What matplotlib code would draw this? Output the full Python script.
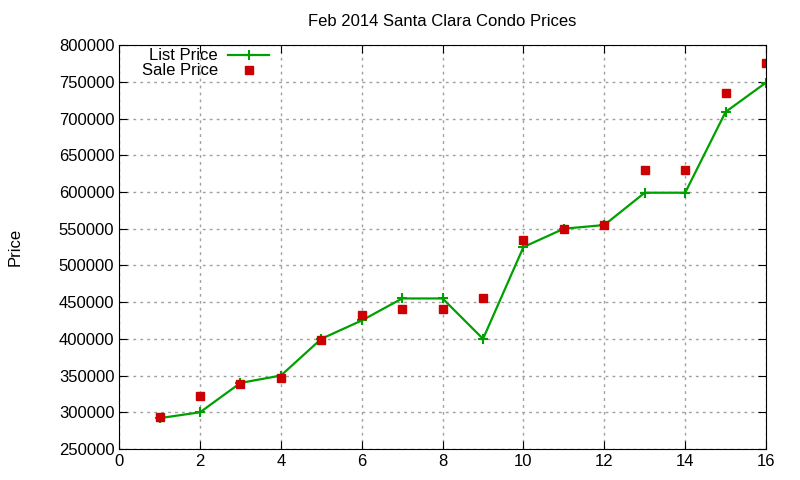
import matplotlib
matplotlib.use('Agg')
import matplotlib.pyplot as plt

months = list(range(1, 17))
list_price = [292000, 300000, 340000, 350000, 400000, 425000, 455000, 455000,
              400000, 525000, 550000, 555000, 599000, 599000, 709000, 749000]
sale_price = [293000, 322000, 339000, 347000, 399000, 432000, 440000, 440000,
              455000, 535000, 550000, 555000, 630000, 630000, 735000, 775000]

plt.rcParams['font.family'] = ['Liberation Sans', 'DejaVu Sans']

fig = plt.figure(figsize=(8, 4.8), dpi=100)
ax = fig.add_axes([0.149, 0.0646, 0.8085, 0.8414])

ax.plot(months, list_price, color='#00a000', lw=1.6, marker='+', ms=7, mew=1.5,
        label='List Price')
ax.plot(months, sale_price, ls='none', color='#cc0000', marker='s', ms=6,
        label='Sale Price')

ax.set_xlim(0, 16)
ax.set_ylim(250000, 800000)
ax.set_xticks(range(0, 17, 2))
ax.set_yticks(range(250000, 800001, 50000))
ax.tick_params(direction='in', top=True, right=True, labelsize=12, length=6)
ax.grid(True, color='#a0a0a0', ls=(0, (2, 3)), lw=1)
ax.set_axisbelow(True)

ax.set_title('Feb 2014 Santa Clara Condo Prices', fontsize=12, pad=14)
ax.set_ylabel('Price', fontsize=12, labelpad=26)

ax.legend(loc='upper left', bbox_to_anchor=(0.014, 1.025), frameon=False,
          markerfirst=False, fontsize=12, handlelength=2.5, borderpad=0.3,
          labelspacing=0.0, handletextpad=0.6)
leg = ax.get_legend()
for t in leg.get_texts():
    t.set_ha('right')
leg._legend_box.align = 'right'

plt.savefig('out.png')
